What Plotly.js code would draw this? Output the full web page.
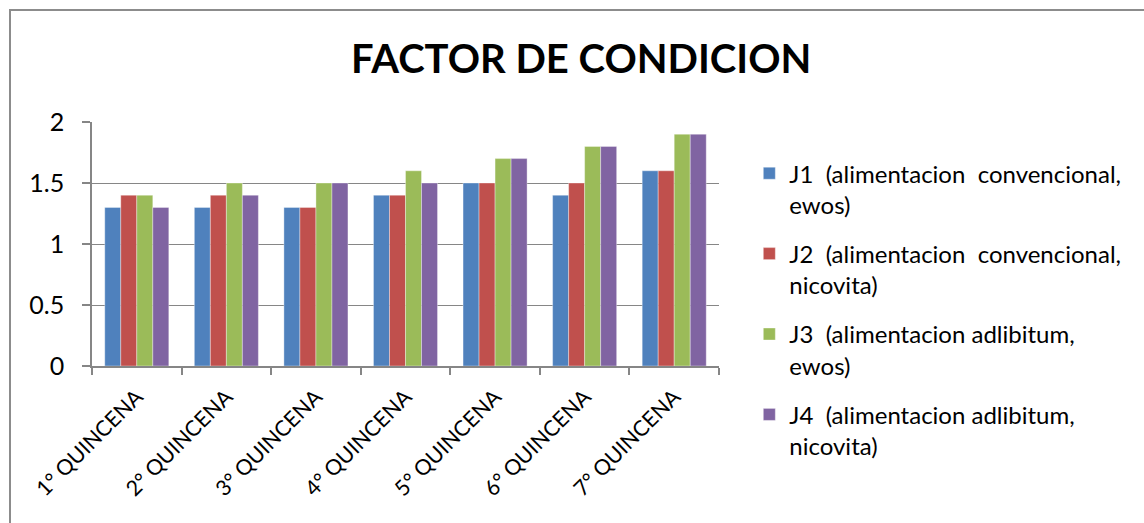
<!DOCTYPE html>
<html>
<head>
<meta charset="utf-8">
<script src="https://cdn.plot.ly/plotly-3.0.1.min.js"></script>
<style>
  html, body { margin: 0; padding: 0; background: #ffffff; overflow: hidden; }
  #wrap { position: relative; width: 1144px; height: 523px; overflow: hidden; }
  #chart { position: absolute; left: 0; top: 0; width: 1144px; height: 523px; }
  #ftop { position: absolute; left: 9px; top: 9px; width: 1135px; height: 2px; background: #8c8c8c; pointer-events: none; }
  #fleft { position: absolute; left: 9px; top: 9px; width: 2px; height: 514px; background: #8c8c8c; pointer-events: none; }
</style>
</head>
<body>
<div id="wrap">
  <div id="chart"></div>
  <div id="ftop"></div>
  <div id="fleft"></div>
</div>
<script>
const categories = ["1° QUINCENA", "2° QUINCENA", "3° QUINCENA", "4° QUINCENA", "5° QUINCENA", "6° QUINCENA", "7° QUINCENA"];
const seriesNames = [
  "J1  (alimentacion  convencional,<br>ewos)",
  "J2  (alimentacion  convencional,<br>nicovita)",
  "J3  (alimentacion adlibitum,<br>ewos)",
  "J4  (alimentacion adlibitum,<br>nicovita)"
];
const j1 = [1.3, 1.3, 1.3, 1.4, 1.5, 1.4, 1.6];
const j2 = [1.4, 1.4, 1.3, 1.4, 1.5, 1.5, 1.6];
const j3 = [1.4, 1.5, 1.5, 1.6, 1.7, 1.8, 1.9];
const j4 = [1.3, 1.4, 1.5, 1.5, 1.7, 1.8, 1.9];
const colors = ["#4F81BD", "#C0504D", "#9BBB59", "#8064A2"];
const yTickVals = [0, 0.5, 1, 1.5, 2];
const yTickText = ["0", "0.5", "1", "1.5", "2"];

const FONT = "Lato, 'Liberation Sans', sans-serif";
const values = [j1, j2, j3, j4];
const traces = values.map((v, i) => ({
  type: "bar",
  name: seriesNames[i],
  x: categories,
  y: v,
  legendgroup: "g" + i,
  marker: { color: colors[i], line: { color: "rgba(255,255,255,0.6)", width: 0.6 } },
  hoverinfo: "x+y"
}));

const layout = {
  width: 1144,
  height: 523,
  paper_bgcolor: "#ffffff",
  plot_bgcolor: "#ffffff",
  margin: { l: 92, r: 425, t: 122, b: 157, pad: 0 },
  font: { family: FONT, size: 24, color: "#000000" },
  title: {
    text: "<b>FACTOR DE CONDICION</b>",
    font: { family: FONT, size: 40, color: "#000000" },
    x: 0.508, xref: "container", xanchor: "center",
    y: 0.887, yref: "container", yanchor: "middle"
  },
  barmode: "group",
  bargap: 0.285,
  bargroupgap: 0,
  showlegend: true,
  legend: {
    xref: "container", yref: "container",
    x: 0.655, y: 0.408, xanchor: "left", yanchor: "middle",
    font: { family: FONT, size: 24, color: "#000000" },
    tracegroupgap: 15,
    itemwidth: 30,
    valign: "top",
    maxheight: 1,
    bgcolor: "rgba(0,0,0,0)"
  },
  xaxis: {
    type: "category",
    showline: true, linecolor: "#868686", linewidth: 1.5,
    ticks: "outside", tickson: "boundaries", ticklen: 7, tickcolor: "#868686", tickwidth: 1.5,
    tickangle: -45,
    ticklabelstandoff: 8,
    tickfont: { family: FONT, size: 21.5, color: "#000000" },
    showgrid: false,
    zeroline: false
  },
  yaxis: {
    range: [0, 2],
    tickvals: yTickVals,
    ticktext: yTickText,
    showline: true, linecolor: "#868686", linewidth: 1.5,
    ticks: "outside", ticklen: 8, tickcolor: "#868686", tickwidth: 1.5,
    ticklabelstandoff: 13,
    showgrid: true, gridcolor: "#868686", gridwidth: 1.2,
    zeroline: false,
    tickfont: { family: FONT, size: 25, color: "#000000" }
  }
};

Plotly.newPlot("chart", traces, layout, { displayModeBar: false });
</script>
</body>
</html>
